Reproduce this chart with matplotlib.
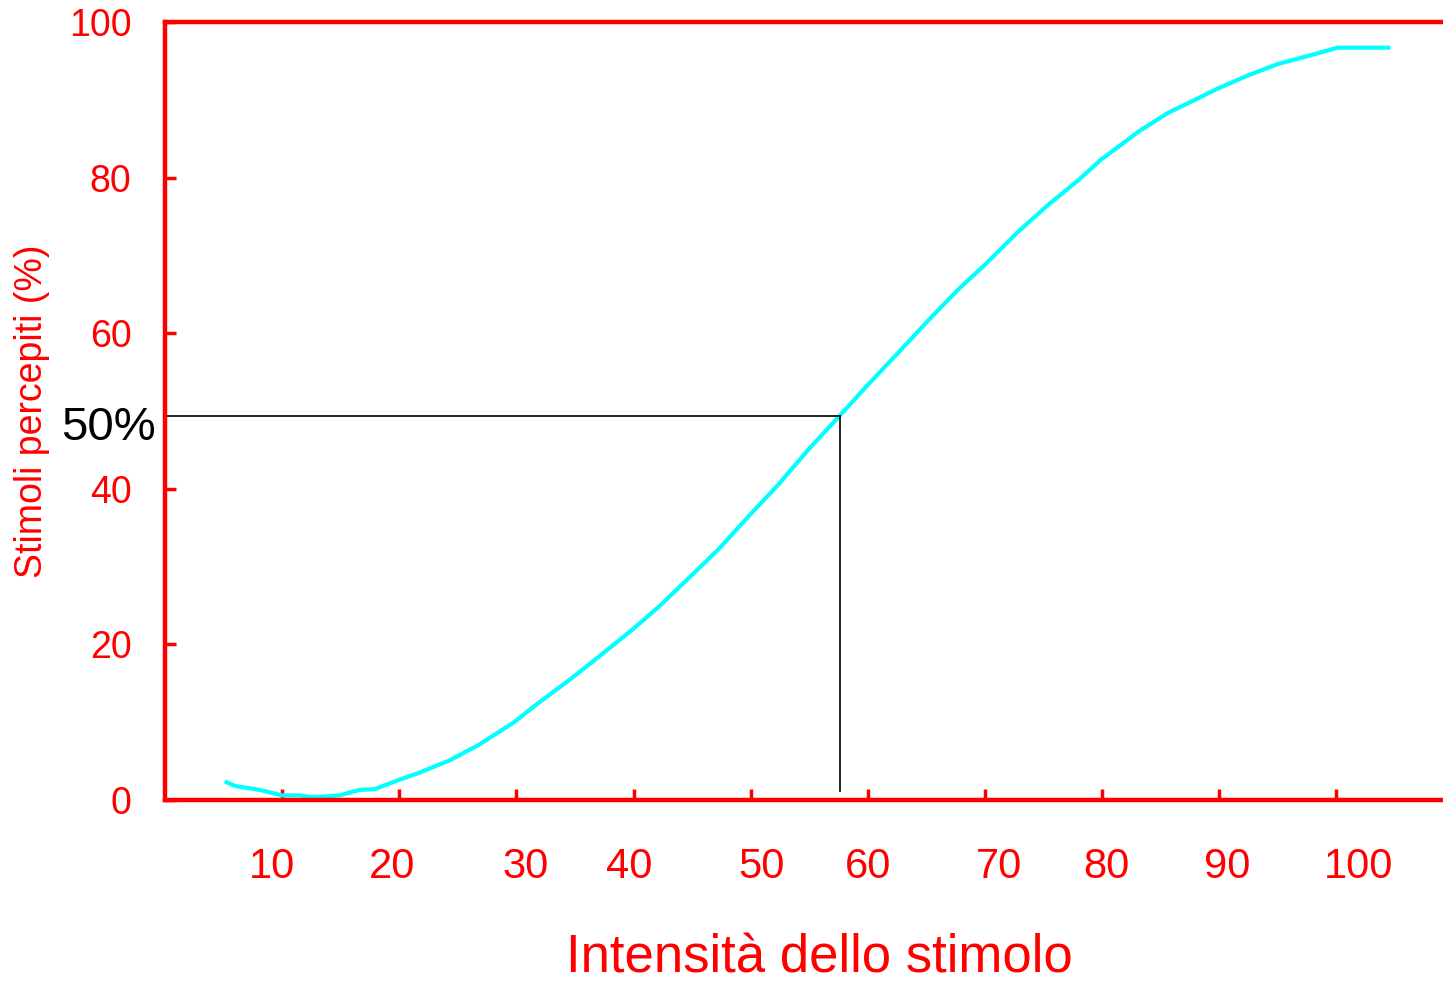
import matplotlib.pyplot as plt
from matplotlib.transforms import ScaledTranslation

plt.rcParams['font.family'] = ['Liberation Sans', 'DejaVu Sans']

# stimulus intensity vs percentage of perceived stimuli
intensity = [5.1, 6.0, 8.1, 10.0, 11.5, 12.4, 13.2, 14.9, 16.6, 17.9, 20.0,
             21.7, 24.3, 26.8, 29.8, 31.9, 34.5, 37.1, 39.9, 42.2, 44.7,
             47.3, 49.9, 52.4, 54.9, 57.6, 59.9, 62.6, 65.2, 67.7, 70.0,
             72.8, 75.4, 78.0, 79.9, 83.1, 85.6, 88.2, 89.8, 92.4, 95.0,
             97.5, 100.1, 104.6]
perceived = [2.4, 1.8, 1.3, 0.6, 0.6, 0.4, 0.4, 0.6, 1.3, 1.4, 2.6,
             3.5, 5.1, 7.1, 10.0, 12.5, 15.4, 18.5, 21.9, 24.9, 28.5,
             32.3, 36.6, 40.6, 45.0, 49.4, 53.2, 57.5, 61.7, 65.6, 68.8,
             73.0, 76.5, 79.7, 82.3, 85.9, 88.3, 90.2, 91.4, 93.1, 94.6,
             95.6, 96.7, 96.7]

x_ticks = [10, 20, 30, 40, 50, 60, 70, 80, 90, 100]
y_ticks = [0, 20, 40, 60, 80, 100]
# labels under the x axis are not centred on their ticks (pixels)
x_label_shift = [-10, -7, 9, -4, 11, 0, 14, 4, 8, 22]

threshold_x = 57.6
threshold_y = 49.4

RED = '#ff0000'

fig = plt.figure(figsize=(14.43, 9.82), dpi=100)
ax = fig.add_axes([0.1143, 0.1853, 0.8857, 0.7923])

ax.plot(intensity, perceived, color='#00ffff', lw=3.0, solid_capstyle='butt')

# 50% threshold lines
ax.plot([0, threshold_x], [threshold_y, threshold_y], color='black', lw=1.2)
ax.plot([threshold_x, threshold_x], [threshold_y, 1.2], color='black', lw=1.2)
ax.text(-0.8, 47.8, '50%', ha='right', va='center', fontsize=34,
        color='black', clip_on=False)

ax.set_xlim(0, 109.1)
ax.set_ylim(0, 100)
ax.set_xticks(x_ticks)
ax.set_yticks(y_ticks)

for side in ['left', 'top', 'bottom']:
    ax.spines[side].set_color(RED)
    ax.spines[side].set_linewidth(3.2)
ax.spines['right'].set_visible(False)

ax.tick_params(axis='x', direction='in', length=8, width=2.5, color=RED,
               labelcolor=RED, labelsize=30, pad=34)
ax.tick_params(axis='y', direction='in', length=8, width=2.5, color=RED,
               labelcolor=RED, labelsize=27, pad=24)

for lab, dx in zip(ax.get_xticklabels(), x_label_shift):
    lab.set_transform(lab.get_transform() +
                      ScaledTranslation(dx / 100, 0, fig.dpi_scale_trans))

ax.set_xlabel('Intensità dello stimolo', color=RED, fontsize=38)
ax.xaxis.set_label_coords(0.5117, -0.172)
ax.set_ylabel('Stimoli percepiti (%)', color=RED, fontsize=27, labelpad=14)

fig.savefig('out.png', dpi=100)
